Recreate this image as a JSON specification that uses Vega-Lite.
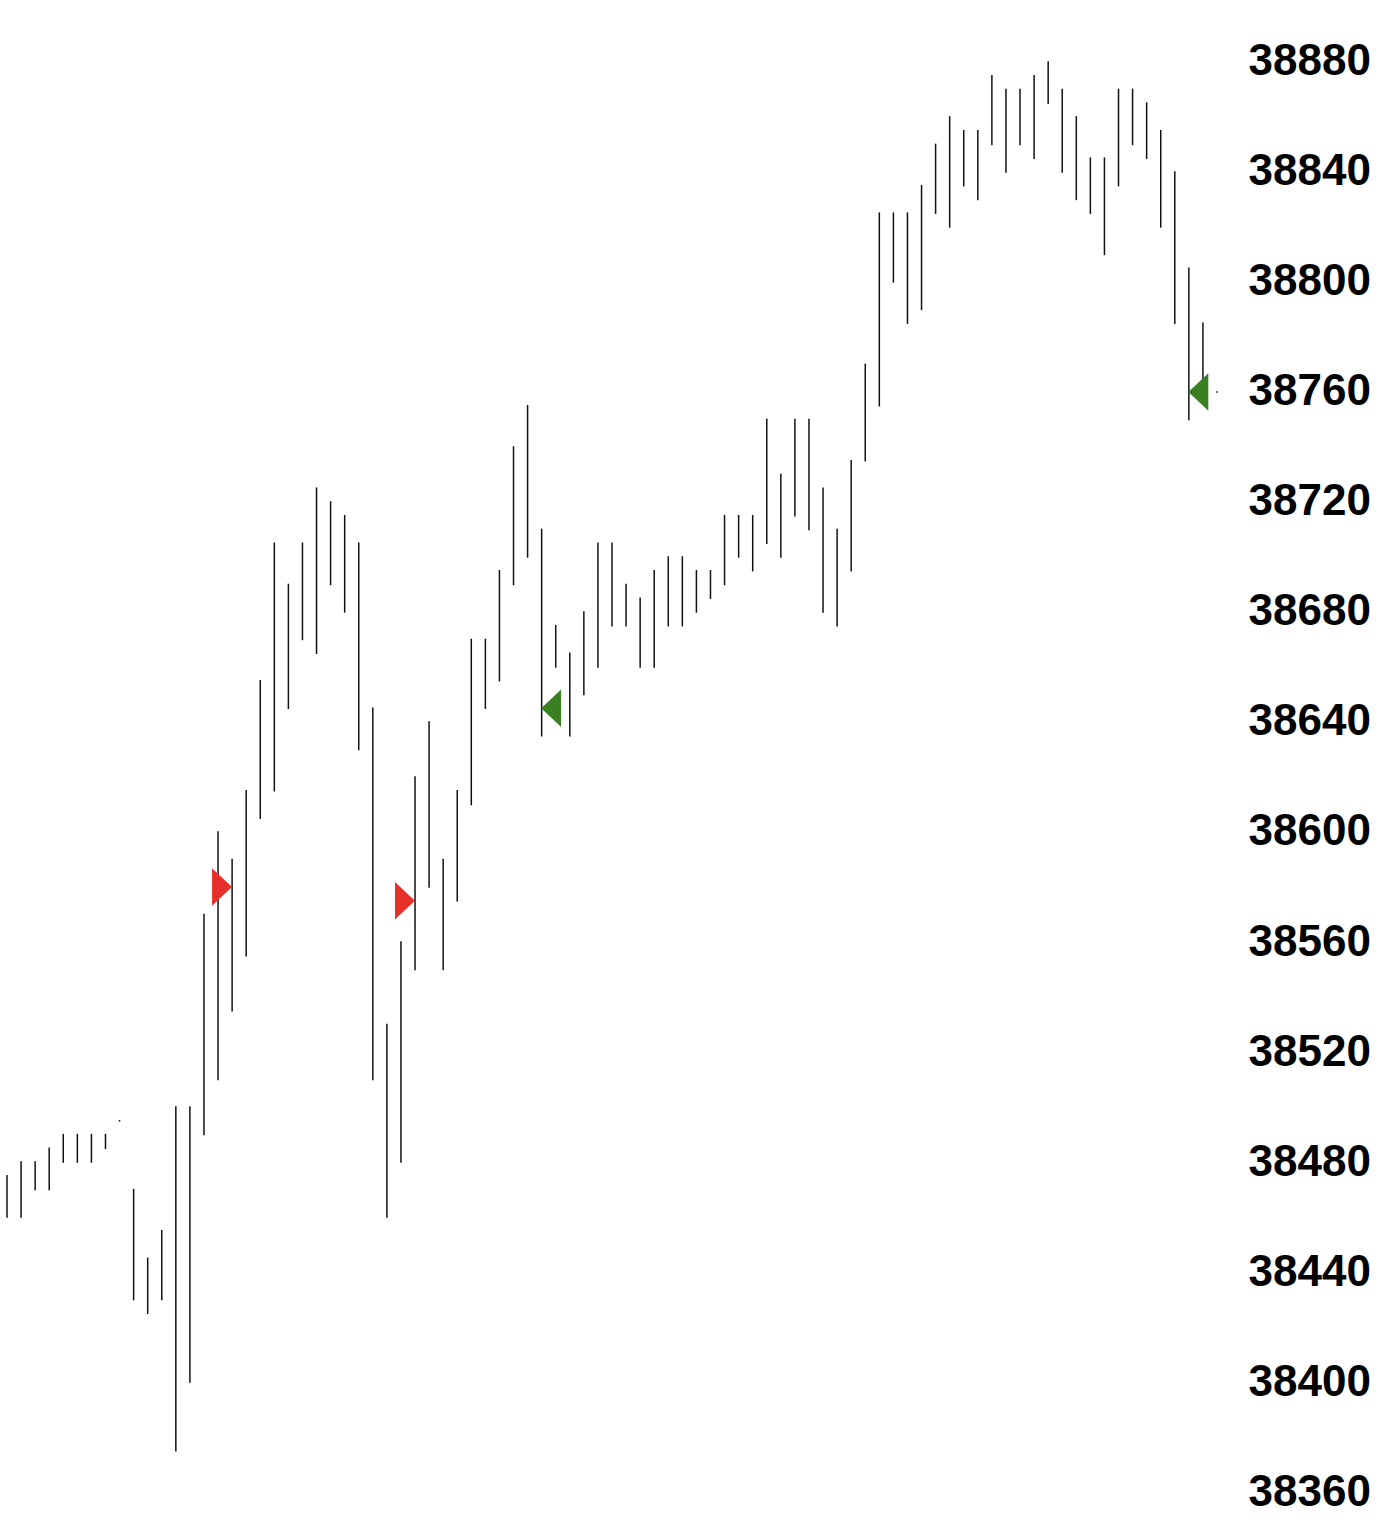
{
  "$schema": "https://vega.github.io/schema/vega-lite/v6.json",
  "width": 1230,
  "height": 1524,
  "autosize": {"type": "none"},
  "padding": {"left": 0, "top": 0, "right": 158, "bottom": 0},
  "background": "white",
  "config": {"view": {"stroke": null}},
  "datasets": {
    "bars": [
      {"i":1,"h":38475,"l":38460},{"i":2,"h":38480,"l":38460},{"i":3,"h":38480,"l":38470},{"i":4,"h":38485,"l":38470},
      {"i":5,"h":38490,"l":38480},{"i":6,"h":38490,"l":38480},{"i":7,"h":38490,"l":38480},{"i":8,"h":38490,"l":38485},
      {"i":9,"h":38495,"l":38495},{"i":10,"h":38470,"l":38430},{"i":11,"h":38445,"l":38425},{"i":12,"h":38455,"l":38430},
      {"i":13,"h":38500,"l":38375},{"i":14,"h":38500,"l":38400},{"i":15,"h":38570,"l":38490},{"i":16,"h":38600,"l":38510},
      {"i":17,"h":38590,"l":38535},{"i":18,"h":38615,"l":38555},{"i":19,"h":38655,"l":38605},{"i":20,"h":38705,"l":38615},
      {"i":21,"h":38690,"l":38645},{"i":22,"h":38705,"l":38670},{"i":23,"h":38725,"l":38665},{"i":24,"h":38720,"l":38690},
      {"i":25,"h":38715,"l":38680},{"i":26,"h":38705,"l":38630},{"i":27,"h":38645,"l":38510},{"i":28,"h":38530,"l":38460},
      {"i":29,"h":38560,"l":38480},{"i":30,"h":38620,"l":38550},{"i":31,"h":38640,"l":38580},{"i":32,"h":38590,"l":38550},
      {"i":33,"h":38615,"l":38575},{"i":34,"h":38670,"l":38610},{"i":35,"h":38670,"l":38645},{"i":36,"h":38695,"l":38655},
      {"i":37,"h":38740,"l":38690},{"i":38,"h":38755,"l":38700},{"i":39,"h":38710,"l":38635},{"i":40,"h":38675,"l":38660},
      {"i":41,"h":38665,"l":38635},{"i":42,"h":38680,"l":38650},{"i":43,"h":38705,"l":38660},{"i":44,"h":38705,"l":38675},
      {"i":45,"h":38690,"l":38675},{"i":46,"h":38685,"l":38660},{"i":47,"h":38695,"l":38660},{"i":48,"h":38700,"l":38675},
      {"i":49,"h":38700,"l":38675},{"i":50,"h":38695,"l":38680},{"i":51,"h":38695,"l":38685},{"i":52,"h":38715,"l":38690},
      {"i":53,"h":38715,"l":38700},{"i":54,"h":38715,"l":38695},{"i":55,"h":38750,"l":38705},{"i":56,"h":38730,"l":38700},
      {"i":57,"h":38750,"l":38715},{"i":58,"h":38750,"l":38710},{"i":59,"h":38725,"l":38680},{"i":60,"h":38710,"l":38675},
      {"i":61,"h":38735,"l":38695},{"i":62,"h":38770,"l":38735},{"i":63,"h":38825,"l":38755},{"i":64,"h":38825,"l":38800},
      {"i":65,"h":38825,"l":38785},{"i":66,"h":38835,"l":38790},{"i":67,"h":38850,"l":38825},{"i":68,"h":38860,"l":38820},
      {"i":69,"h":38855,"l":38835},{"i":70,"h":38855,"l":38830},{"i":71,"h":38875,"l":38850},{"i":72,"h":38870,"l":38840},
      {"i":73,"h":38870,"l":38850},{"i":74,"h":38875,"l":38845},{"i":75,"h":38880,"l":38865},{"i":76,"h":38870,"l":38840},
      {"i":77,"h":38860,"l":38830},{"i":78,"h":38845,"l":38825},{"i":79,"h":38845,"l":38810},{"i":80,"h":38870,"l":38835},
      {"i":81,"h":38870,"l":38850},{"i":82,"h":38865,"l":38845},{"i":83,"h":38855,"l":38820},{"i":84,"h":38840,"l":38785},
      {"i":85,"h":38805,"l":38750},{"i":86,"h":38785,"l":38760},{"i":87,"h":38760,"l":38760}
    ],
    "signals": [
      {"i":16,"p":38580,"kind":"red"},
      {"i":29,"p":38575,"kind":"red"},
      {"i":39,"p":38645,"kind":"green"},
      {"i":85,"p":38760,"kind":"green"}
    ]
  },
  "layer": [
    {
      "data": {"name": "bars"},
      "mark": {"type": "rule", "stroke": "#111111", "strokeWidth": 1.5, "strokeCap": "square"},
      "encoding": {
        "x": {"field": "i", "type": "quantitative", "scale": {"domain": [0.5025, 87.924], "nice": false, "zero": false}, "axis": null},
        "y": {
          "field": "h", "type": "quantitative",
          "scale": {"domain": [38348.4, 38902.5], "nice": false, "zero": false},
          "axis": {
            "orient": "right", "title": null, "format": "d",
            "values": [38360,38400,38440,38480,38520,38560,38600,38640,38680,38720,38760,38800,38840,38880],
            "domain": false, "ticks": false, "grid": false,
            "labelFont": "Liberation Sans", "labelFontSize": 44, "labelFontWeight": "bold", "labelColor": "#000000",
            "labelPadding": 18, "labelAlign": "left", "labelBaseline": "middle", "labelOverlap": false, "labelFlush": false
          }
        },
        "y2": {"field": "l"}
      }
    },
    {
      "data": {"name": "signals"},
      "transform": [{"filter": "datum.kind === 'red'"}],
      "mark": {"type": "point", "filled": true, "shape": "M-0.53,-1L0.53,0L-0.53,1Z", "size": 1414, "color": "#E8302A", "opacity": 1, "xOffset": 4},
      "encoding": {
        "x": {"field": "i", "type": "quantitative", "scale": {"domain": [0.5025, 87.924], "nice": false, "zero": false}},
        "y": {"field": "p", "type": "quantitative", "scale": {"domain": [38348.4, 38902.5], "nice": false, "zero": false}}
      }
    },
    {
      "data": {"name": "signals"},
      "transform": [{"filter": "datum.kind === 'green'"}],
      "mark": {"type": "point", "filled": true, "shape": "M0.53,-1L-0.53,0L0.53,1Z", "size": 1414, "color": "#3A7F22", "opacity": 1, "xOffset": 9.5},
      "encoding": {
        "x": {"field": "i", "type": "quantitative", "scale": {"domain": [0.5025, 87.924], "nice": false, "zero": false}},
        "y": {"field": "p", "type": "quantitative", "scale": {"domain": [38348.4, 38902.5], "nice": false, "zero": false}}
      }
    }
  ]
}
